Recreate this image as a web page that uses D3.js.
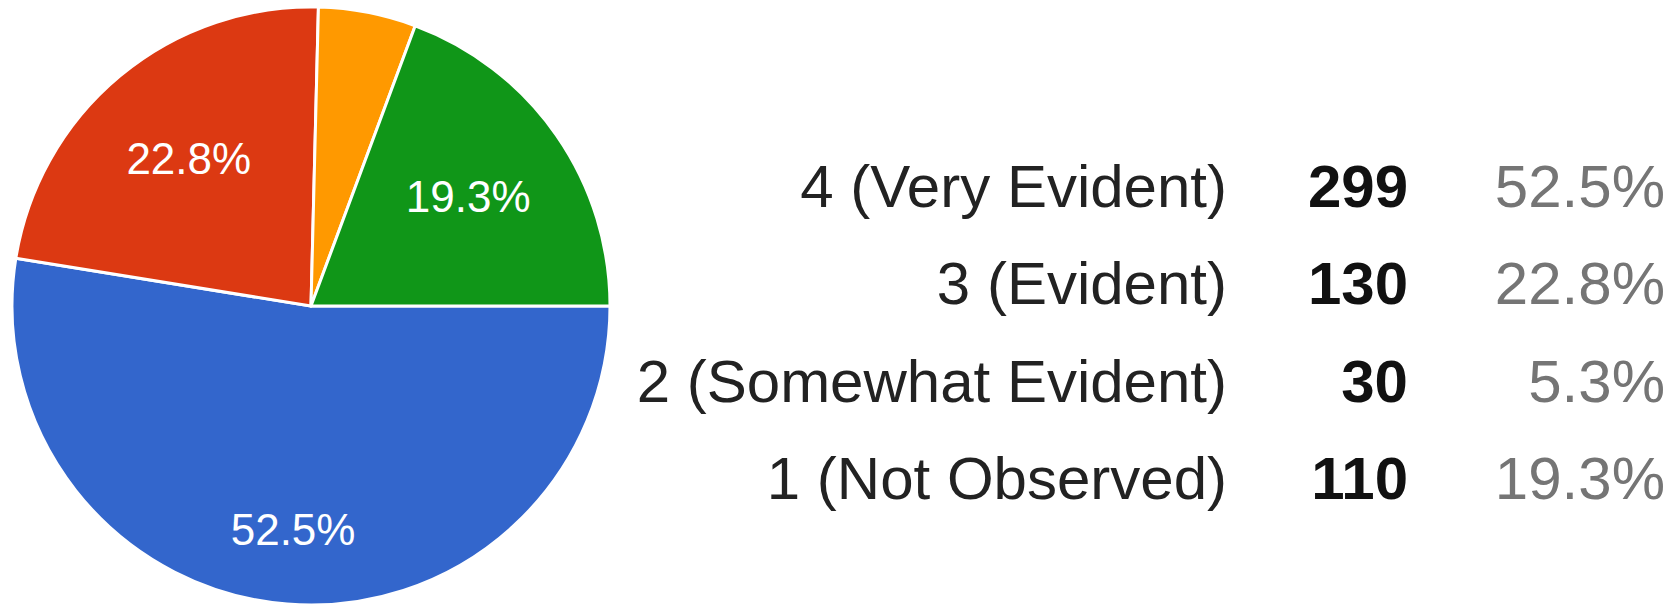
<!DOCTYPE html>
<html>
<head>
<meta charset="utf-8">
<script src="https://cdn.jsdelivr.net/npm/d3@7/dist/d3.min.js"></script>
<style>
  html, body { margin: 0; padding: 0; background: #fff; }
  svg { display: block; }
  text { font-family: Arial, "Liberation Sans", sans-serif; }
</style>
</head>
<body>
<svg id="chart" width="1680" height="606"></svg>
<script>
// Survey responses
const categories = ["4 (Very Evident)", "3 (Evident)", "2 (Somewhat Evident)", "1 (Not Observed)"];
const counts = [299, 130, 30, 110];
const percentLabels = ["52.5%", "22.8%", "5.3%", "19.3%"];
const colors = ["#3366cc", "#dc3912", "#ff9900", "#109618"];

const W = 1680, H = 606;
const cx = 311, cy = 306, radius = 299;

const svg = d3.select("#chart");
svg.append("rect").attr("width", W).attr("height", H).attr("fill", "#fff");

const rows = categories.map((c, i) => ({ label: c, value: counts[i], pct: percentLabels[i], color: colors[i] }));

// First slice begins at 3 o'clock and runs clockwise
const pie = d3.pie()
  .value(d => d.value)
  .sort(null)
  .startAngle(Math.PI / 2)
  .endAngle(Math.PI / 2 + 2 * Math.PI);

const arcs = pie(rows);
const arc = d3.arc().innerRadius(0).outerRadius(radius);

const g = svg.append("g").attr("transform", `translate(${cx},${cy})`);

g.selectAll("path.slice")
  .data(arcs)
  .join("path")
  .attr("class", "slice")
  .attr("d", arc)
  .attr("fill", d => d.data.color)
  .attr("stroke", "#fff")
  .attr("stroke-width", 3)
  .attr("stroke-linejoin", "round");

// Percentage labels inside slices wide enough to hold them
const total = d3.sum(counts);
const labelArc = d => {
  const share = d.data.value / total;
  const rr = share > 0.5 ? radius * 0.75 : radius * 0.64;
  return d3.arc().innerRadius(rr).outerRadius(rr).centroid(d);
};

g.selectAll("text.pct")
  .data(arcs.filter(d => d.data.value / total > 0.1))
  .join("text")
  .attr("class", "pct")
  .attr("x", d => labelArc(d)[0])
  .attr("y", d => labelArc(d)[1])
  .attr("dy", "0.35em")
  .attr("text-anchor", "middle")
  .attr("fill", "#fff")
  .attr("font-size", 44)
  .text(d => d.data.pct);

// Legend table: label, count, share
const rowY = d3.scalePoint()
  .domain(categories)
  .range([207, 499]);

const legend = svg.append("g").attr("font-size", 60);

legend.selectAll("text.lab")
  .data(rows)
  .join("text")
  .attr("class", "lab")
  .attr("x", 1227)
  .attr("y", d => rowY(d.label))
  .attr("text-anchor", "end")
  .attr("fill", "#222")
  .text(d => d.label);

legend.selectAll("text.cnt")
  .data(rows)
  .join("text")
  .attr("class", "cnt")
  .attr("x", 1408)
  .attr("y", d => rowY(d.label))
  .attr("text-anchor", "end")
  .attr("font-weight", "bold")
  .attr("fill", "#111")
  .text(d => d.value);

legend.selectAll("text.share")
  .data(rows)
  .join("text")
  .attr("class", "share")
  .attr("x", 1665)
  .attr("y", d => rowY(d.label))
  .attr("text-anchor", "end")
  .attr("fill", "#757575")
  .text(d => d.pct);
</script>
</body>
</html>
